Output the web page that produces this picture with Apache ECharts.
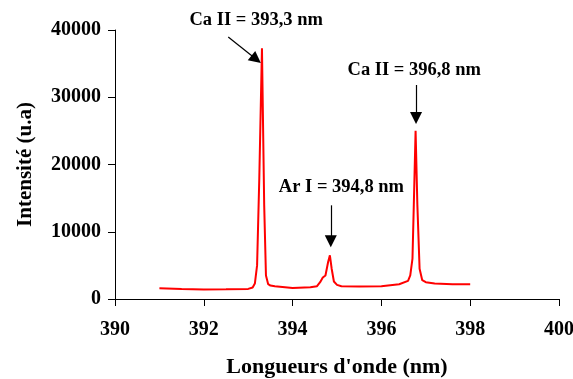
<!DOCTYPE html>
<html>
<head>
<meta charset="utf-8">
<script src="https://cdn.jsdelivr.net/npm/echarts@6/dist/echarts.min.js"></script>
<style>
html, body { margin: 0; padding: 0; background: #fff; }
#chart { width: 573px; height: 379px; }
</style>
</head>
<body>
<div id="chart"></div>
<script>
// spectre d'émission
var wavelengths = [391.0, 391.5, 392.0, 392.5, 393.0, 393.1, 393.15, 393.2, 393.25, 393.31, 393.36, 393.4, 393.45, 393.5, 393.6,
    394.0, 394.4, 394.55, 394.62, 394.68, 394.74, 394.8, 394.84, 394.88, 394.93, 395.0, 395.1, 395.5,
    396.0, 396.4, 396.6, 396.65, 396.7, 396.73, 396.77, 396.81, 396.86, 396.92, 397.0, 397.2, 397.6, 398.0];
var intensities = [1600, 1500, 1420, 1450, 1500, 1700, 2300, 5000, 18000, 37300, 14000, 3500, 2200, 2000, 1900,
    1650, 1750, 1900, 2500, 3200, 3500, 5500, 6500, 4500, 2600, 2100, 1900, 1850,
    1900, 2200, 2700, 3500, 6000, 14000, 25000, 14000, 4500, 2800, 2500, 2300, 2200, 2200];

// annotations: texte, position du texte, flèche (début -> fin)
var labels = ['Ca II = 393,3 nm', 'Ar I = 394,8 nm', 'Ca II = 396,8 nm'];
var labelPos = [[393.18, 41490], [395.1, 16650], [396.74, 34050]];
var arrows = [
    [[392.55, 38960], [393.18, 35640]],
    [[394.86, 13930], [394.86, 8580]],
    [[396.78, 31820], [396.78, 26910]]
];

var font = '"Liberation Serif", "Times New Roman", serif';

var myChart = echarts.init(document.getElementById('chart'));

var points = wavelengths.map(function (w, i) { return [w, intensities[i]]; });

var options = {
    animation: false,
    grid: { left: 115, right: 14, top: 30, bottom: 80, outerBoundsMode: 'none' },
    xAxis: {
        type: 'value',
        min: 390, max: 400, interval: 2,
        name: "Longueurs d'onde (nm)",
        nameLocation: 'middle',
        nameGap: 57,
        nameTextStyle: { fontFamily: font, fontWeight: 'bold', fontSize: 22, color: '#000' },
        axisLine: { onZero: false, lineStyle: { color: '#000', width: 1 } },
        axisTick: { show: true, inside: false, length: 7, lineStyle: { color: '#000' } },
        axisLabel: { fontFamily: font, fontWeight: 'bold', fontSize: 20, color: '#000', margin: 21 },
        splitLine: { show: false }
    },
    yAxis: {
        type: 'value',
        min: 0, max: 40000, interval: 10000,
        name: 'Intensité (u.a)',
        nameLocation: 'middle',
        nameGap: 79,
        nameRotate: 90,
        nameTextStyle: { fontFamily: font, fontWeight: 'bold', fontSize: 21, color: '#000' },
        axisLine: { show: true, lineStyle: { color: '#000', width: 1 } },
        axisTick: { show: true, inside: false, length: 7, lineStyle: { color: '#000' } },
        axisLabel: {
            fontFamily: font, fontWeight: 'bold', fontSize: 20, color: '#000', margin: 14,
            formatter: function (v) { return String(v); }
        },
        splitLine: { show: false }
    },
    series: [{
        type: 'line',
        data: points,
        showSymbol: false,
        smooth: false,
        lineStyle: { color: '#ff0000', width: 2 },
        markLine: {
            silent: true,
            symbol: ['none', 'triangle'],
            symbolSize: 12,
            lineStyle: { color: '#000', width: 1.2, type: 'solid' },
            label: { show: false },
            data: arrows.map(function (a) { return [{ coord: a[0] }, { coord: a[1] }]; })
        }
    }]
};

myChart.setOption(options);

// textes des annotations (placés via les axes)
myChart.setOption({
    graphic: labels.map(function (t, i) {
        var p = myChart.convertToPixel({ gridIndex: 0 }, labelPos[i]);
        return {
            type: 'text',
            x: p[0], y: p[1],
            style: {
                text: t,
                align: 'center', verticalAlign: 'middle',
                font: 'bold 18.5px ' + font,
                fill: '#000'
            }
        };
    })
});
</script>
</body>
</html>
